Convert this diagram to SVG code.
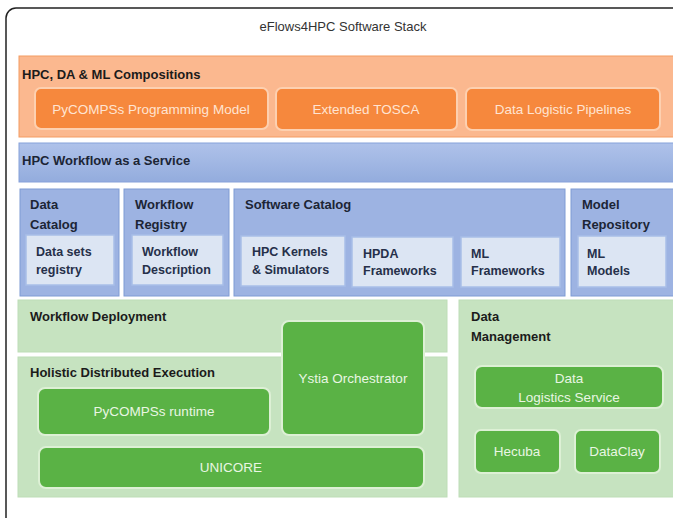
<svg xmlns="http://www.w3.org/2000/svg" width="673" height="518" viewBox="0 0 673 518">
<defs>
<linearGradient id="gBlue" x1="0" y1="0" x2="0" y2="1">
<stop offset="0" stop-color="#AFC2EA"/>
<stop offset="1" stop-color="#93ACDD"/>
</linearGradient>
<style>
text{font-family:"Liberation Sans",Arial,sans-serif;}
.title{font-size:13px;fill:#333;}
.hdr{font-size:13px;font-weight:bold;fill:#1b1b1b;}
.bhdr{font-size:13px;font-weight:bold;fill:#1c2535;}
.orangeBand{fill:#FBB88F;stroke:#F49C62;stroke-width:1;}
.obox{fill:#F6883D;stroke:#FDD0B0;stroke-width:2;}
.otxt{font-size:13.5px;fill:#FFE4D2;text-anchor:middle;}
.blueBand{fill:url(#gBlue);stroke:#86A1DA;stroke-width:1;}
.bbox{fill:#9DB3E2;stroke:#7F9BD4;stroke-width:1;}
.ibox{fill:#DCE5F3;stroke:#A8BEE8;stroke-width:1.5;}
.itxt{font-size:12.5px;font-weight:bold;fill:#26304a;}
.gpanel{fill:#C6E3C0;stroke:#BEDDB7;stroke-width:1;}
.gbox{fill:#5AB245;stroke:#DDF0D5;stroke-width:2;}
.gtxt{font-size:13.5px;fill:#E9F6E3;text-anchor:middle;}
</style>
</defs>
<rect x="6" y="8" width="700" height="540" rx="10" ry="10" fill="#FFFFFF" stroke="#222" stroke-width="1.5"/>
<text class="title" x="343" y="31" text-anchor="middle">eFlows4HPC Software Stack</text>

<g id="compositions">
<rect class="orangeBand" x="19" y="56" width="670" height="81"/>
<text class="hdr" x="22" y="79">HPC, DA &amp; ML Compositions</text>
</g>
<g id="pycompss-model">
<rect class="obox" x="35" y="88" width="233" height="41" rx="6"/>
<text class="otxt" x="151" y="114">PyCOMPSs Programming Model</text>
</g>
<g id="tosca">
<rect class="obox" x="276" y="88" width="181" height="42" rx="6"/>
<text class="otxt" x="366" y="114">Extended TOSCA</text>
</g>
<g id="dlp">
<rect class="obox" x="466" y="88" width="194" height="42" rx="6"/>
<text class="otxt" x="563" y="114">Data Logistic Pipelines</text>
</g>

<g id="hpcwaas">
<rect class="blueBand" x="19" y="143" width="670" height="39"/>
<text class="bhdr" x="22" y="165">HPC Workflow as a Service</text>
</g>

<g id="data-catalog">
<rect class="bbox" x="20" y="189" width="99" height="107"/>
<text class="bhdr" x="30" y="209">Data</text>
<text class="bhdr" x="30" y="229">Catalog</text>
</g>
<g id="data-sets">
<rect class="ibox" x="26" y="235" width="88" height="50"/>
<text class="itxt" x="36" y="256">Data sets</text>
<text class="itxt" x="36" y="274">registry</text>
</g>
<g id="workflow-registry">
<rect class="bbox" x="124" y="189" width="105" height="107"/>
<text class="bhdr" x="135" y="209">Workflow</text>
<text class="bhdr" x="135" y="229">Registry</text>
</g>
<g id="workflow-desc">
<rect class="ibox" x="132" y="235" width="91" height="50"/>
<text class="itxt" x="142" y="256">Workflow</text>
<text class="itxt" x="142" y="274">Description</text>
</g>
<g id="software-catalog">
<rect class="bbox" x="234" y="189" width="331" height="107"/>
<text class="bhdr" x="245" y="209">Software Catalog</text>
</g>
<g id="hpc-kernels">
<rect class="ibox" x="241" y="236" width="104" height="50"/>
<text class="itxt" x="252" y="256">HPC Kernels</text>
<text class="itxt" x="252" y="274">&amp; Simulators</text>
</g>
<g id="hpda">
<rect class="ibox" x="352" y="237" width="101" height="50"/>
<text class="itxt" x="363" y="258">HPDA</text>
<text class="itxt" x="363" y="275">Frameworks</text>
</g>
<g id="ml-frameworks">
<rect class="ibox" x="461" y="237" width="99" height="50"/>
<text class="itxt" x="471" y="258">ML</text>
<text class="itxt" x="471" y="275">Frameworks</text>
</g>
<g id="model-repository">
<rect class="bbox" x="571" y="189" width="110" height="107"/>
<text class="bhdr" x="582" y="209">Model</text>
<text class="bhdr" x="582" y="229">Repository</text>
</g>
<g id="ml-models">
<rect class="ibox" x="578" y="236" width="88" height="51"/>
<text class="itxt" x="587" y="258">ML</text>
<text class="itxt" x="587" y="275">Models</text>
</g>

<g id="workflow-deployment">
<rect class="gpanel" x="18" y="300" width="429" height="52"/>
<text class="hdr" x="30" y="321">Workflow Deployment</text>
</g>
<g id="holistic">
<rect class="gpanel" x="18" y="357" width="429" height="140"/>
<text class="hdr" x="30" y="377">Holistic Distributed Execution</text>
</g>
<g id="ystia">
<rect class="gbox" x="282" y="321" width="142" height="114" rx="7"/>
<text class="gtxt" x="353" y="383">Ystia Orchestrator</text>
</g>
<g id="pycompss-runtime">
<rect class="gbox" x="38" y="388" width="232" height="47" rx="7"/>
<text class="gtxt" x="154" y="416">PyCOMPSs runtime</text>
</g>
<g id="unicore">
<rect class="gbox" x="39" y="447" width="385" height="41" rx="7"/>
<text class="gtxt" x="231" y="472">UNICORE</text>
</g>

<g id="data-management">
<rect class="gpanel" x="459" y="300" width="220" height="197"/>
<text class="hdr" x="471" y="321">Data</text>
<text class="hdr" x="471" y="341">Management</text>
</g>
<g id="dls">
<rect class="gbox" x="475" y="366" width="188" height="42" rx="7"/>
<text class="gtxt" x="569" y="383">Data</text>
<text class="gtxt" x="569" y="402">Logistics Service</text>
</g>
<g id="hecuba">
<rect class="gbox" x="475" y="430" width="85" height="43" rx="6"/>
<text class="gtxt" x="517" y="456">Hecuba</text>
</g>
<g id="dataclay">
<rect class="gbox" x="575" y="430" width="85" height="43" rx="6"/>
<text class="gtxt" x="617" y="456">DataClay</text>
</g>
<g id="connectors"></g>
</svg>
